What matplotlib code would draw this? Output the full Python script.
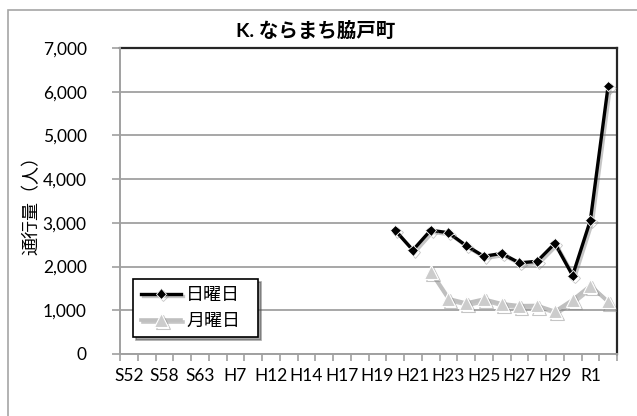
import matplotlib
matplotlib.use("Agg")
import matplotlib.pyplot as plt
import matplotlib.patheffects as pe
from matplotlib.patches import Rectangle
from matplotlib.ticker import FuncFormatter, FixedLocator
import numpy as np

plt.rcParams['font.family'] = ['Lato', 'Noto Sans CJK JP', 'DejaVu Sans']

# Survey years (Showa / Heisei / Reiwa)
years = ["S52", "S55", "S58", "S60", "S63", "H4", "H7", "H10", "H12", "H13",
         "H14", "H16", "H17", "H18", "H19", "H20", "H21", "H22", "H23", "H24",
         "H25", "H26", "H27", "H28", "H29", "H30", "R1", "R2"]

# Pedestrian counts
sunday_start = "H20"
sunday = [2830, 2375, 2830, 2775, 2480, 2235, 2300, 2085, 2120, 2530, 1795, 3060, 6130]
monday_start = "H22"
monday = [1880, 1265, 1165, 1255, 1150, 1105, 1110, 975, 1240, 1565, 1200]

title = "K. ならまち脇戸町"
ylabel = "通行量（人）"
sunday_label = "日曜日"
monday_label = "月曜日"
yticks = [0, 1000, 2000, 3000, 4000, 5000, 6000, 7000]

W, H = 637, 416
fig = plt.figure(figsize=(W / 100, H / 100), dpi=100)

# chart-area frame (runs off the right and bottom edges)
fig.patches.append(Rectangle((8 / W, -0.1), 1.0, 1.1 - 10 / H, transform=fig.transFigure,
                             fill=False, edgecolor="#a6a6a6", linewidth=1.2, zorder=0))

left, right, top, bottom = 120, 617, 48, 354
ax = fig.add_axes([left / W, 1 - bottom / H, (right - left) / W, (bottom - top) / H])

x = np.arange(len(years))
xs = x[years.index(sunday_start):years.index(sunday_start) + len(sunday)]
xm = x[years.index(monday_start):years.index(monday_start) + len(monday)]

shadow = [pe.SimpleLineShadow(offset=(1.5, -1.5), shadow_color="#808080", alpha=0.45),
          pe.Normal()]

ax.plot(xm, monday, color="#bfbfbf", linewidth=2.6, marker="^", markersize=10,
        markerfacecolor="#cccccc", markeredgecolor="white", markeredgewidth=0.8,
        label=monday_label, zorder=3, path_effects=shadow)
ax.plot(xs, sunday, color="black", linewidth=2.4, marker="D", markersize=5.5,
        markerfacecolor="black", markeredgecolor="white", markeredgewidth=0.6,
        label=sunday_label, zorder=4, path_effects=shadow)

ax.set_xlim(-0.5, len(years) - 0.5)
ax.set_ylim(0, 7000)

# y axis
ax.set_yticks(yticks)
ax.yaxis.set_major_formatter(FuncFormatter(lambda v, p: f"{int(v):,}"))
ax.tick_params(axis="y", direction="out", length=6, width=1.2, color="#a0a0a0",
               labelsize=12.5, pad=18, labelcolor="black")
ax.grid(axis="y", color="#a0a0a0", linewidth=1.3, zorder=0)

# x axis: tick marks on category boundaries, labels on every other category
ax.xaxis.set_major_locator(FixedLocator(np.arange(-0.5, len(years), 1.0)))
ax.xaxis.set_major_formatter(FuncFormatter(lambda v, p: ""))
ax.xaxis.set_minor_locator(FixedLocator(x[::2]))
ax.set_xticklabels([years[i] for i in x[::2]], minor=True)
ax.tick_params(axis="x", which="major", direction="out", length=5, width=1.2, color="#a0a0a0")
ax.tick_params(axis="x", which="minor", length=0, labelsize=12.5, pad=10, labelcolor="black")

for s in ("top", "right"):
    ax.spines[s].set_color("#262626")
    ax.spines[s].set_linewidth(1.6)
for s in ("left", "bottom"):
    ax.spines[s].set_color("#a0a0a0")
    ax.spines[s].set_linewidth(1.4)
    ax.spines[s].set_zorder(5)

ax.set_ylabel(ylabel, fontsize=13)
ax.yaxis.set_label_coords(-(left - 40) / (right - left), 0.5)

fig.text(316 / W, 1 - 30 / H, title, ha="center", va="center", fontsize=14,
         fontweight="bold")

handles, labels = ax.get_legend_handles_labels()
leg = ax.legend(handles[::-1], labels[::-1], loc="lower left",
                bbox_to_anchor=((133 - left) / (right - left), (bottom - 337) / (bottom - top),
                                (258 - 133) / (right - left), (337 - 267) / (bottom - top)),
                mode="expand", fontsize=13, frameon=True, fancybox=False, shadow=True,
                edgecolor="black", handlelength=2.2, handletextpad=0.3,
                borderaxespad=0, labelspacing=0.55, borderpad=0.45)
leg.get_frame().set_linewidth(1.2)
leg.set_zorder(6)

fig.savefig("out.png", dpi=100)
